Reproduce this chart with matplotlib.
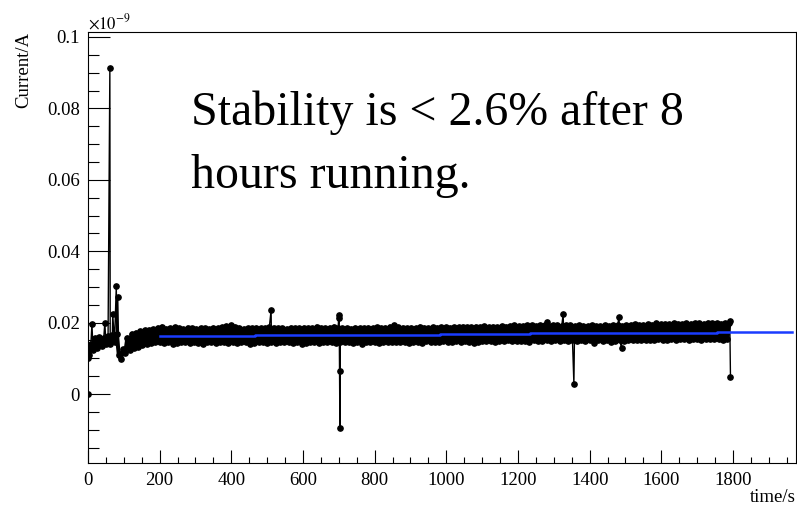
import numpy as np
import matplotlib
matplotlib.use("Agg")
import matplotlib.pyplot as plt
from matplotlib.ticker import MultipleLocator, FuncFormatter

plt.rcParams["font.family"] = ["Liberation Serif", "DejaVu Serif"]
plt.rcParams["mathtext.fontset"] = "stix"

# Picoammeter readout, one sample every 6 s starting at t = 2 s (values in pA)
t_start, t_step = 2, 6
current_pA = [
    10.8, 13.9, 12.2, 15.6, 13.0, 16.0, 13.4, 15.8, 14.1, 16.3,
    14.0, 16.6, 14.6, 16.9, 11.0, 9.8, 12.6, 11.6, 15.8, 12.4,
    16.9, 12.8, 17.2, 13.3, 17.6, 13.6, 17.8, 14.0, 18.0, 14.3,
    18.2, 14.5, 18.6, 14.6, 18.9, 14.2, 18.3, 14.7, 18.5, 14.0,
    18.7, 14.3, 18.4, 14.6, 18.2, 14.5, 18.6, 14.4, 18.5, 14.7,
    18.3, 14.2, 18.5, 13.9, 18.4, 14.6, 18.2, 14.5, 18.6, 14.4,
    18.4, 14.6, 18.8, 14.5, 19.1, 14.3, 19.2, 14.6, 18.9, 14.4,
    18.6, 14.7, 18.3, 14.5, 18.4, 14.0, 18.5, 14.3, 18.6, 14.5,
    18.4, 14.6, 18.5, 14.4, 18.7, 14.5, 18.6, 14.2, 18.4, 14.6,
    18.5, 14.5, 18.3, 14.7, 18.6, 14.4, 18.5, 14.6, 18.4, 14.1,
    18.6, 14.3, 18.4, 14.6, 18.5, 14.5, 18.9, 14.4, 18.5, 14.6,
    18.4, 14.5, 18.6, 14.7, 18.9, 14.4, 18.5, 14.6, 18.4, 14.5,
    18.5, 14.6, 18.3, 14.4, 18.6, 14.7, 18.5, 14.0, 18.4, 14.6,
    18.6, 14.5, 18.5, 14.6, 18.7, 14.4, 18.5, 14.7, 18.6, 14.5,
    18.9, 14.6, 19.3, 14.5, 18.8, 14.7, 18.6, 14.6, 18.5, 14.4,
    18.6, 14.6, 18.5, 14.7, 18.9, 14.2, 18.6, 14.8, 18.5, 14.6,
    18.7, 14.7, 18.6, 14.5, 18.8, 14.8, 18.7, 14.6, 18.6, 14.7,
    18.8, 14.8, 18.7, 14.6, 18.9, 14.9, 18.7, 14.7, 18.8, 14.3,
    18.9, 14.7, 18.8, 14.9, 19.0, 14.8, 18.8, 14.9, 18.9, 14.7,
    18.8, 14.9, 19.0, 14.8, 18.9, 15.0, 19.1, 14.8, 19.3, 14.9,
    19.0, 14.8, 19.1, 14.9, 19.3, 14.7, 19.2, 15.0, 19.0, 14.9,
    19.2, 14.9, 19.4, 15.0, 19.1, 14.8, 19.3, 15.0, 19.2, 14.9,
    19.1, 15.0, 19.3, 14.9, 19.2, 15.1, 19.0, 14.9, 19.2, 15.0,
    19.1, 14.8, 19.0, 15.0, 19.2, 14.3, 19.1, 15.1, 19.0, 14.9,
    19.2, 15.0, 19.1, 14.7, 19.3, 14.9, 19.2, 15.0, 19.1, 14.8,
    19.3, 15.1, 19.4, 15.0, 19.5, 15.2, 19.3, 15.1, 19.4, 15.0,
    19.5, 15.2, 19.4, 15.1, 19.8, 15.3, 19.5, 15.2, 19.7, 15.1,
    19.6, 15.3, 19.8, 15.2, 19.7, 15.4, 19.6, 15.3, 19.8, 15.2,
    19.7, 15.4, 19.9, 15.3, 19.8, 15.2, 19.7, 15.4, 20.0, 15.3,
    19.8, 15.3, 19.9, 15.4, 19.7, 15.2, 19.9, 15.3, 19.8,
]

# Isolated glitch readings (time in s, current in pA)
glitch_t = [0, 1, 11, 47, 61, 69, 79, 83, 511, 700, 701, 702, 703,
            1282, 1326, 1356, 1482, 1489, 1791, 1793]
glitch_pA = [0.0, 10.1, 19.7, 20.0, 91.3, 22.3, 30.3, 27.1, 23.5, 22.1, 21.2, 6.5, -9.6,
             20.3, 22.3, 2.8, 21.7, 12.8, 20.5, 4.7]

# Fitted baseline (step-wise evaluation), pA
fit_t = [200, 466, 731, 982, 1234, 1485, 1755, 1965]
fit_pA = [16.2, 16.45, 16.65, 16.85, 17.0, 17.15, 17.3, 17.3]

x_ticks = [0, 200, 400, 600, 800, 1000, 1200, 1400, 1600, 1800]
y_ticks = [0, 0.02, 0.04, 0.06, 0.08, 0.1]

t_main = t_start + t_step * np.arange(len(current_pA))
main_nA = np.asarray(current_pA) / 1000.0      # axis shows units of 1e-9 A
t_all = np.concatenate([t_main, np.asarray(glitch_t, float)])
i_all = np.concatenate([np.asarray(current_pA), np.asarray(glitch_pA)])
order = np.argsort(t_all, kind="stable")
t_all = t_all[order]
i_nA = i_all[order] / 1000.0

W, H = 797, 505
fig = plt.figure(figsize=(W / 100, H / 100), dpi=100)
ax = fig.add_axes([88 / W, 1 - 463.3 / H, (795.7 - 88) / W, (463.3 - 32) / H])

# dense readout band, then the full trace with every point marked
ax.plot(t_main, main_nA, color="black", lw=2.9, solid_joinstyle="round", zorder=2)
ax.plot(t_all, i_nA, color="black", lw=1.0, marker="o", ms=3.8,
        mec="black", mfc="black", zorder=2)
ax.plot(fit_t, np.asarray(fit_pA) / 1000.0, color="#1a3cff", lw=1.8,
        drawstyle="steps-post", zorder=3)

ax.set_xlim(0, 1975)
ax.set_ylim(-0.0194, 0.1014)

ax.set_xticks(x_ticks)
ax.set_yticks(y_ticks)
ax.xaxis.set_minor_locator(MultipleLocator(50))
ax.yaxis.set_minor_locator(MultipleLocator(0.005))
ax.yaxis.set_major_formatter(FuncFormatter(lambda v, p: "%g" % round(v, 4)))

ax.tick_params(axis="x", which="major", direction="in", length=9.4, width=0.8,
               labelsize=13.5, pad=6, top=False)
ax.tick_params(axis="x", which="minor", direction="in", length=4.5, width=0.8, top=False)
ax.tick_params(axis="y", which="major", direction="in", length=15.6, width=0.8,
               labelsize=13.5, pad=6, right=False)
ax.tick_params(axis="y", which="minor", direction="in", length=7.8, width=0.8, right=False)
for s in ax.spines.values():
    s.set_linewidth(0.8)

fig.text(796 / W, 1 - 501.5 / H, "time/s", ha="right", va="baseline", fontsize=13.5)
fig.text(24 / W, 1 - 32 / H, "Current/A", rotation=90, ha="center", va="top", fontsize=13.5)
fig.text(88 / W, 1 - 28.5 / H, r"$\times10^{-9}$", ha="left", va="baseline", fontsize=12)

fig.text(191 / W, 1 - 125 / H, "Stability is < 2.6% after 8", ha="left",
         va="baseline", fontsize=34.5)
fig.text(191 / W, 1 - 188 / H, "hours running.", ha="left", va="baseline", fontsize=34.5)

fig.savefig("out.png", dpi=100)
